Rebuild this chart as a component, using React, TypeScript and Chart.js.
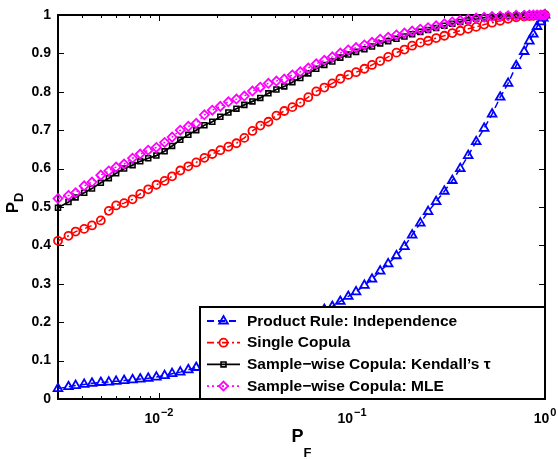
import React, { useEffect, useRef } from 'react';
import { Chart, registerables } from 'chart.js';
import { drawPoint } from 'chart.js/helpers';

Chart.register(...registerables);

// False-alarm probabilities (x) shared by all ROC curves
const pf = [
  0.003, 0.0034, 0.0037, 0.0041, 0.0045, 0.005, 0.0055, 0.006, 0.0066, 0.0073,
  0.008, 0.0088, 0.0097, 0.0107, 0.0117, 0.0129, 0.0142, 0.0156, 0.0172, 0.0189,
  0.0208, 0.0229, 0.0252, 0.0277, 0.0305, 0.0335, 0.0369, 0.0406, 0.0446, 0.0491,
  0.054, 0.0594, 0.0653, 0.0719, 0.0791, 0.087, 0.0957, 0.105, 0.116, 0.127,
  0.14, 0.154, 0.17, 0.187, 0.205, 0.226, 0.248, 0.273, 0.301, 0.331,
  0.364, 0.4, 0.44, 0.484, 0.532, 0.586, 0.644, 0.709, 0.78, 0.83,
  0.87, 0.91, 0.95, 0.98, 1.0,
];

// Detection probabilities for each fusion rule
const pdIndependence = [
  0.027, 0.032, 0.035, 0.038, 0.041, 0.043, 0.044, 0.046, 0.048, 0.05,
  0.052, 0.054, 0.057, 0.061, 0.066, 0.07, 0.076, 0.082, 0.088, 0.094,
  0.1, 0.107, 0.114, 0.122, 0.131, 0.141, 0.152, 0.163, 0.175, 0.187,
  0.199, 0.211, 0.222, 0.233, 0.241, 0.254, 0.267, 0.279, 0.296, 0.312,
  0.333, 0.352, 0.373, 0.397, 0.427, 0.458, 0.488, 0.514, 0.541, 0.569,
  0.6, 0.634, 0.67, 0.705, 0.742, 0.786, 0.822, 0.868, 0.905, 0.932,
  0.95, 0.97, 0.982, 0.992, 1.0,
];

const pdSingleCopula = [
  0.412, 0.425, 0.436, 0.443, 0.452, 0.465, 0.49, 0.504, 0.51, 0.52,
  0.534, 0.546, 0.558, 0.568, 0.58, 0.595, 0.606, 0.616, 0.628, 0.638,
  0.648, 0.657, 0.666, 0.68, 0.698, 0.712, 0.722, 0.738, 0.75, 0.76,
  0.772, 0.786, 0.801, 0.811, 0.822, 0.834, 0.844, 0.851, 0.86, 0.87,
  0.88, 0.891, 0.902, 0.91, 0.92, 0.928, 0.933, 0.94, 0.946, 0.953,
  0.959, 0.964, 0.969, 0.975, 0.98, 0.985, 0.99, 0.994, 0.996, 0.997,
  0.998, 0.999, 0.999, 1.0, 1.0,
];

const pdKendall = [
  0.498, 0.513, 0.525, 0.537, 0.548, 0.563, 0.575, 0.588, 0.6, 0.609,
  0.619, 0.627, 0.634, 0.645, 0.659, 0.675, 0.688, 0.7, 0.713, 0.722,
  0.735, 0.746, 0.756, 0.766, 0.775, 0.784, 0.796, 0.806, 0.814, 0.825,
  0.836, 0.848, 0.86, 0.87, 0.879, 0.889, 0.897, 0.904, 0.911, 0.918,
  0.926, 0.932, 0.938, 0.944, 0.95, 0.956, 0.961, 0.966, 0.972, 0.977,
  0.982, 0.986, 0.99, 0.993, 0.995, 0.997, 0.998, 0.999, 0.999, 1.0,
  1.0, 1.0, 1.0, 1.0, 1.0,
];

const pdMle = [
  0.522, 0.53, 0.537, 0.555, 0.565, 0.583, 0.594, 0.604, 0.612, 0.627,
  0.638, 0.648, 0.655, 0.668, 0.682, 0.7, 0.71, 0.718, 0.74, 0.752,
  0.762, 0.774, 0.781, 0.789, 0.802, 0.812, 0.822, 0.828, 0.833, 0.844,
  0.852, 0.862, 0.873, 0.882, 0.891, 0.901, 0.909, 0.915, 0.922, 0.929,
  0.937, 0.942, 0.948, 0.953, 0.958, 0.963, 0.967, 0.972, 0.977, 0.982,
  0.986, 0.989, 0.992, 0.994, 0.996, 0.997, 0.998, 0.999, 0.999, 1.0,
  1.0, 1.0, 1.0, 1.0, 1.0,
];

const seriesNames = [
  'Product Rule: Independence',
  'Single Copula',
  'Sample\u2212wise Copula: Kendall\u2019s \u03c4',
  'Sample\u2212wise Copula: MLE',
];

const yTicks = [0, 0.1, 0.2, 0.3, 0.4, 0.5, 0.6, 0.7, 0.8, 0.9, 1];
const yTickLabels = ['0', '0.1', '0.2', '0.3', '0.4', '0.5', '0.6', '0.7', '0.8', '0.9', '1'];
const xMajorTicks = [0.01, 0.1, 1];
const xMajorExponents = ['\u22122', '\u22121', '0'];
const xMinorTicks = [
  0.004, 0.005, 0.006, 0.007, 0.008, 0.009,
  0.02, 0.03, 0.04, 0.05, 0.06, 0.07, 0.08, 0.09,
  0.2, 0.3, 0.4, 0.5, 0.6, 0.7, 0.8, 0.9,
];

const FONT = '"Liberation Sans", Arial, Helvetica, sans-serif';

const toPoints = (ys: number[]) => pf.map((x, i) => ({ x, y: ys[i] }));

// Box, inward ticks, tick labels and axis titles in the classic figure style
const axesPlugin = {
  id: 'figureAxes',
  beforeDatasetsDraw(chart: any) {
    const { ctx, chartArea: a, scales } = chart;
    const xs = scales.x;
    const ys = scales.y;
    ctx.save();
    ctx.strokeStyle = '#000';
    ctx.lineWidth = 1;
    ctx.beginPath();
    yTicks.forEach((v) => {
      const py = Math.round(ys.getPixelForValue(v)) + 0.5;
      ctx.moveTo(a.left, py);
      ctx.lineTo(a.left + 6, py);
      ctx.moveTo(a.right, py);
      ctx.lineTo(a.right - 6, py);
    });
    xMajorTicks.forEach((v) => {
      const px = Math.round(xs.getPixelForValue(v)) + 0.5;
      ctx.moveTo(px, a.bottom);
      ctx.lineTo(px, a.bottom - 6);
      ctx.moveTo(px, a.top);
      ctx.lineTo(px, a.top + 6);
    });
    xMinorTicks.forEach((v) => {
      const px = Math.round(xs.getPixelForValue(v)) + 0.5;
      ctx.moveTo(px, a.bottom);
      ctx.lineTo(px, a.bottom - 3);
      ctx.moveTo(px, a.top);
      ctx.lineTo(px, a.top + 3);
    });
    ctx.stroke();
    ctx.lineWidth = 2;
    ctx.strokeRect(a.left, a.top, a.right - a.left, a.bottom - a.top);

    ctx.fillStyle = '#000';
    ctx.font = `bold 14px ${FONT}`;
    ctx.textAlign = 'right';
    ctx.textBaseline = 'middle';
    yTicks.forEach((v, i) => {
      ctx.fillText(yTickLabels[i], a.left - 7, ys.getPixelForValue(v));
    });

    ctx.textAlign = 'left';
    ctx.textBaseline = 'alphabetic';
    xMajorTicks.forEach((v, i) => {
      const px = xs.getPixelForValue(v);
      ctx.font = `bold 14px ${FONT}`;
      const wb = ctx.measureText('10').width;
      ctx.font = `bold 11px ${FONT}`;
      const we = ctx.measureText(xMajorExponents[i]).width;
      const left = px - (wb + we + 1) / 2;
      ctx.font = `bold 14px ${FONT}`;
      ctx.fillText('10', left, a.bottom + 24);
      ctx.font = `bold 11px ${FONT}`;
      ctx.fillText(xMajorExponents[i], left + wb + 1, a.bottom + 17);
    });

    // x title: P_F
    const cx = (a.left + a.right) / 2;
    ctx.font = `bold 18px ${FONT}`;
    const wP = ctx.measureText('P').width;
    ctx.font = `bold 13px ${FONT}`;
    const wF = ctx.measureText('F').width;
    const xl = cx - (wP + wF) / 2;
    ctx.font = `bold 18px ${FONT}`;
    ctx.fillText('P', xl, a.bottom + 43);
    ctx.font = `bold 13px ${FONT}`;
    ctx.fillText('F', xl + wP, a.bottom + 58);

    // y title: P_D (rotated)
    const cy = (a.top + a.bottom) / 2 - 4;
    ctx.translate(18, cy);
    ctx.rotate(-Math.PI / 2);
    ctx.font = `bold 17px ${FONT}`;
    const wP2 = ctx.measureText('P').width;
    ctx.font = `bold 13px ${FONT}`;
    const wD = ctx.measureText('D').width;
    const yl = -(wP2 + wD) / 2;
    ctx.font = `bold 17px ${FONT}`;
    ctx.fillText('P', yl, 0);
    ctx.font = `bold 13px ${FONT}`;
    ctx.fillText('D', yl + wP2, 5);
    ctx.restore();
  },
};

// Legend box in the lower-right corner of the plot area
const legendPlugin = {
  id: 'figureLegend',
  afterDatasetsDraw(chart: any) {
    const { ctx, chartArea: a } = chart;
    const w = 345;
    const h = 92;
    const left = a.right - w;
    const top = a.bottom - h;
    ctx.save();
    ctx.fillStyle = '#fff';
    ctx.fillRect(left, top, w, h);
    ctx.strokeStyle = '#000';
    ctx.lineWidth = 2;
    ctx.strokeRect(left, top, w, h);
    chart.data.datasets.forEach((ds: any, i: number) => {
      const y = top + 14 + i * 21.7;
      ctx.strokeStyle = ds.borderColor;
      ctx.lineWidth = 1.8;
      ctx.setLineDash(ds.borderDash || []);
      ctx.beginPath();
      ctx.moveTo(left + 7, y);
      ctx.lineTo(left + 40, y);
      ctx.stroke();
      ctx.setLineDash([]);
      ctx.fillStyle = 'rgba(0,0,0,0)';
      ctx.lineWidth = ds.pointBorderWidth;
      drawPoint(ctx, {
        pointStyle: ds.pointStyle,
        rotation: 0,
        radius: ds.pointRadius,
        borderWidth: ds.pointBorderWidth,
      }, left + 23.5, y);
      ctx.fillStyle = '#000';
      ctx.font = `bold 15.5px ${FONT}`;
      ctx.textAlign = 'left';
      ctx.textBaseline = 'middle';
      ctx.fillText(seriesNames[i], left + 47, y + 0.5);
    });
    ctx.restore();
  },
};

export default function App() {
  const canvasRef = useRef<HTMLCanvasElement | null>(null);

  useEffect(() => {
    if (!canvasRef.current) return;
    const common = {
      showLine: true,
      tension: 0,
      fill: false,
      clip: false as any,
      pointBackgroundColor: 'rgba(0,0,0,0)',
    };
    const chart = new Chart(canvasRef.current, {
      type: 'line',
      data: {
        datasets: [
          {
            ...common,
            label: seriesNames[0],
            data: toPoints(pdIndependence),
            borderColor: '#0000ff',
            pointBorderColor: '#0000ff',
            borderWidth: 1.5,
            borderDash: [7, 4],
            pointStyle: 'triangle',
            pointRadius: 5,
            pointBorderWidth: 1.8,
            order: 3,
          },
          {
            ...common,
            label: seriesNames[1],
            data: toPoints(pdSingleCopula),
            borderColor: '#ff0000',
            pointBorderColor: '#ff0000',
            borderWidth: 1.5,
            borderDash: [7, 3, 2, 3],
            pointStyle: 'circle',
            pointRadius: 4,
            pointBorderWidth: 1.8,
            order: 2,
          },
          {
            ...common,
            label: seriesNames[2],
            data: toPoints(pdKendall),
            borderColor: '#000000',
            pointBorderColor: '#000000',
            borderWidth: 1.8,
            borderDash: [],
            pointStyle: 'rect',
            pointRadius: 3.5,
            pointBorderWidth: 1.6,
            order: 1,
          },
          {
            ...common,
            label: seriesNames[3],
            data: toPoints(pdMle),
            borderColor: '#ff00ff',
            pointBorderColor: '#ff00ff',
            borderWidth: 1.5,
            borderDash: [2, 3],
            pointStyle: 'rectRot',
            pointRadius: 4.5,
            pointBorderWidth: 1.8,
            order: 0,
          },
        ],
      },
      options: {
        animation: false,
        responsive: true,
        maintainAspectRatio: false,
        events: [],
        layout: { padding: { left: 58, right: 13, top: 15, bottom: 60 } },
        plugins: {
          legend: { display: false },
          tooltip: { enabled: false },
        },
        scales: {
          x: { type: 'logarithmic', min: 0.003, max: 1, display: false },
          y: { type: 'linear', min: 0, max: 1, display: false },
        },
      },
      plugins: [axesPlugin, legendPlugin],
    });
    return () => chart.destroy();
  }, []);

  return (
    <div style={{ position: 'fixed', left: 0, top: 0, width: 558, height: 459, background: '#fff' }}>
      <canvas ref={canvasRef} />
    </div>
  );
}
